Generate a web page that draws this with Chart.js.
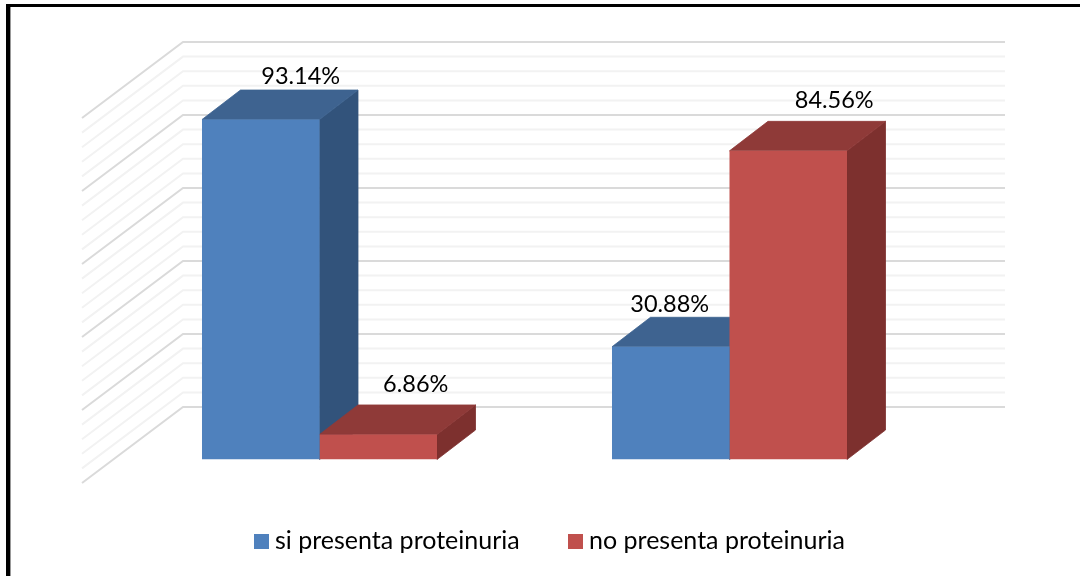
<!DOCTYPE html>
<html>
<head>
<meta charset="utf-8">
<style>
  html, body { margin: 0; padding: 0; background: #fff; }
  #wrap { position: relative; width: 1080px; height: 576px; overflow: hidden; }
</style>
<script src="https://cdn.jsdelivr.net/npm/chart.js@4/dist/chart.umd.min.js"></script>
</head>
<body>
<div id="wrap"><canvas id="myChart" width="1080" height="576"></canvas></div>
<script>
const categories = ['Grupo 1', 'Grupo 2'];
const siValues = [93.14, 30.88];
const noValues = [6.86, 84.56];
const seriesNames = ['si presenta proteinuria', 'no presenta proteinuria'];

const fontFamily = 'Lato, "Open Sans", sans-serif';

// bar extrusion, and the floor/wall box behind the bars
const depth = { dx: 38.5, dy: 29.5 };
const wall = { frontX: 82, backX: 183, rightX: 1005, frontDrop: 23.5, backRise: 52.5 };

const shades = [
  { top: '#3E6390', side: '#32537B' },
  { top: '#8F3A38', side: '#7D302E' },
];

// hand placed labels, offset from the middle of the bar's top back edge
const labelOffsets = [
  [{ x: 1.5, y: -13.5 }, { x: -39.5, y: -13 }],
  [{ x: -1, y: -20.5 }, { x: 7.5, y: -20.5 }],
];

function poly(ctx, pts, fill) {
  ctx.beginPath();
  pts.forEach((p, i) => (i ? ctx.lineTo(p[0], p[1]) : ctx.moveTo(p[0], p[1])));
  ctx.closePath();
  ctx.fillStyle = fill;
  ctx.fill();
  // closes the hairline seam between neighbouring faces
  ctx.strokeStyle = fill;
  ctx.lineWidth = 0.8;
  ctx.stroke();
}

const box3d = {
  id: 'box3d',
  beforeDatasetsDraw(chart) {
    const ctx = chart.ctx;
    const yScale = chart.scales.y;
    ctx.save();

    // left wall and back wall gridlines, heavier every 20%
    yScale.ticks.forEach(tick => {
      const y = yScale.getPixelForValue(tick.value);
      const major = tick.value % 20 === 0;
      ctx.beginPath();
      ctx.moveTo(wall.frontX, y + wall.frontDrop);
      ctx.lineTo(wall.backX, y - wall.backRise);
      ctx.lineTo(wall.rightX, y - wall.backRise);
      ctx.strokeStyle = major ? '#DADADA' : '#F2F2F2';
      ctx.lineWidth = 2;
      ctx.stroke();
    });

    // tops and sides of the bars, fronts are the real bar elements
    chart.data.datasets.forEach((ds, d) => {
      chart.getDatasetMeta(d).data.forEach(bar => {
        const half = bar.width / 2;
        const l = bar.x - half;
        const r = bar.x + half;
        const t = bar.y;
        const b = bar.base;
        poly(ctx, [[r, t], [r + depth.dx, t - depth.dy], [r + depth.dx, b - depth.dy], [r, b]], shades[d].side);
        poly(ctx, [[l, t], [l + depth.dx, t - depth.dy], [r + depth.dx, t - depth.dy], [r, t]], shades[d].top);
      });
    });
    ctx.restore();
  },
  afterDatasetsDraw(chart) {
    const ctx = chart.ctx;
    ctx.save();

    // value labels
    ctx.font = '23.5px ' + fontFamily;
    ctx.fillStyle = '#000';
    ctx.textAlign = 'center';
    ctx.textBaseline = 'middle';
    chart.data.datasets.forEach((ds, d) => {
      chart.getDatasetMeta(d).data.forEach((bar, i) => {
        const off = labelOffsets[d][i];
        ctx.fillText(ds.data[i].toFixed(2) + '%', bar.x + depth.dx + off.x, bar.y - depth.dy + off.y);
      });
    });

    // legend row
    const startX = [254, 568];
    ctx.font = '25px ' + fontFamily;
    ctx.textAlign = 'left';
    chart.data.datasets.forEach((ds, d) => {
      ctx.fillStyle = ds.backgroundColor;
      ctx.fillRect(startX[d], 534, 15, 15);
      ctx.fillStyle = '#000';
      ctx.fillText(ds.label, startX[d] + 21, 541);
    });

    // black frame, open on the right and at the bottom
    ctx.fillStyle = '#000';
    ctx.fillRect(6, 4, 1074, 3);
    ctx.fillRect(6, 4, 4, 572);
    ctx.fillStyle = '#999';
    ctx.fillRect(10, 7, 1, 569);
    ctx.restore();
  },
};

new Chart(document.getElementById('myChart').getContext('2d'), {
  type: 'bar',
  plugins: [box3d],
  data: {
    labels: categories,
    datasets: [
      { label: seriesNames[0], data: siValues, backgroundColor: '#4F81BD' },
      { label: seriesNames[1], data: noValues, backgroundColor: '#C0504D' },
    ],
  },
  options: {
    responsive: false,
    animation: false,
    layout: { padding: { left: 114.5, right: 145.5, top: 94.5, bottom: 116.5 } },
    categoryPercentage: 0.5732,
    barPercentage: 1,
    scales: {
      x: { display: false },
      y: { display: false, min: 0, max: 100, ticks: { stepSize: 4, maxTicksLimit: 30, autoSkip: false } },
    },
    plugins: {
      legend: { display: false },
      tooltip: { enabled: false },
    },
  },
});
</script>
</body>
</html>
